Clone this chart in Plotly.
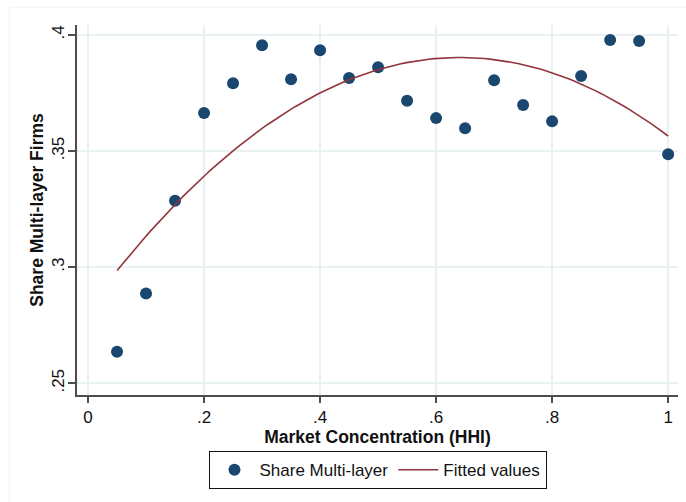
import numpy as np
import plotly.graph_objects as go

# Market concentration bins (HHI) and share of multi-layer firms in each bin
hhi = [0.05, 0.10, 0.15, 0.20, 0.25, 0.30, 0.35, 0.40, 0.45, 0.50,
       0.55, 0.60, 0.65, 0.70, 0.75, 0.80, 0.85, 0.90, 0.95, 1.00]
share_multi = [0.2636, 0.2887, 0.3286, 0.3664, 0.3792, 0.3956, 0.3809, 0.3934, 0.3815, 0.3861,
               0.3717, 0.3642, 0.3598, 0.3805, 0.3698, 0.3628, 0.3823, 0.3978, 0.3974, 0.3486]

x_ticks = [0, 0.2, 0.4, 0.6, 0.8, 1.0]
x_tick_text = ["0", ".2", ".4", ".6", ".8", "1"]
y_ticks = [0.25, 0.30, 0.35, 0.40]
y_tick_text = [".25", ".3", ".35", ".4"]

# Quadratic fit of the share on HHI
coef = np.polyfit(hhi, share_multi, 2)
x_fit = np.linspace(min(hhi), max(hhi), 100)
y_fit = np.polyval(coef, x_fit)

FONT = "Liberation Sans, Arial, sans-serif"
GRID = "#e9f0f1"
AXIS = "#4d4d4d"

fig = go.Figure()
fig.add_trace(go.Scatter(
    x=hhi, y=share_multi, mode="markers", name="Share Multi-layer",
    marker=dict(color="#1a476f", size=12, line=dict(width=0)),
))
fig.add_trace(go.Scatter(
    x=x_fit, y=y_fit, mode="lines", name="Fitted values",
    line=dict(color="#90353b", width=1.6),
))

fig.update_layout(
    width=686, height=502,
    margin=dict(l=77, r=8, t=25, b=107),
    paper_bgcolor="white", plot_bgcolor="white",
    font=dict(family=FONT, size=17, color="#111111"),
    showlegend=True,
    legend=dict(
        orientation="h", x=0.5, xanchor="center", y=-0.152, yanchor="top",
        bordercolor="#111111", borderwidth=1, bgcolor="white",
        font=dict(family=FONT, size=17, color="#111111"),
        itemwidth=40, tracegroupgap=0,
    ),
    xaxis=dict(
        range=[-0.019, 1.017], tickvals=x_ticks, ticktext=x_tick_text,
        showgrid=True, gridcolor=GRID, gridwidth=1.5, zeroline=False,
        showline=True, linecolor=AXIS, linewidth=1.5,
        ticks="outside", ticklen=6, tickcolor=AXIS, tickwidth=1.5,
        tickfont=dict(size=17),
        title=dict(text="<b>Market Concentration (HHI)</b>", font=dict(size=17.5), standoff=3),
    ),
    yaxis=dict(
        range=[0.24496, 0.4043], tickvals=y_ticks, ticktext=y_tick_text,
        showgrid=True, gridcolor=GRID, gridwidth=1.5, zeroline=False,
        showline=True, linecolor=AXIS, linewidth=1.5,
        ticks="outside", ticklen=7, tickcolor=AXIS, tickwidth=1.5,
        tickangle=-90, tickfont=dict(size=17), ticklabelstandoff=-3,
        title=dict(text="<b>Share Multi-layer Firms</b>", font=dict(size=17.5), standoff=1),
    ),
    shapes=[dict(
        type="rect", xref="paper", yref="paper",
        x0=-0.1131, x1=1.3, y0=-0.5, y1=1.0486,
        line=dict(color="#f2f2f2", width=1), layer="below",
    )],
)

fig.write_html("out.html")
